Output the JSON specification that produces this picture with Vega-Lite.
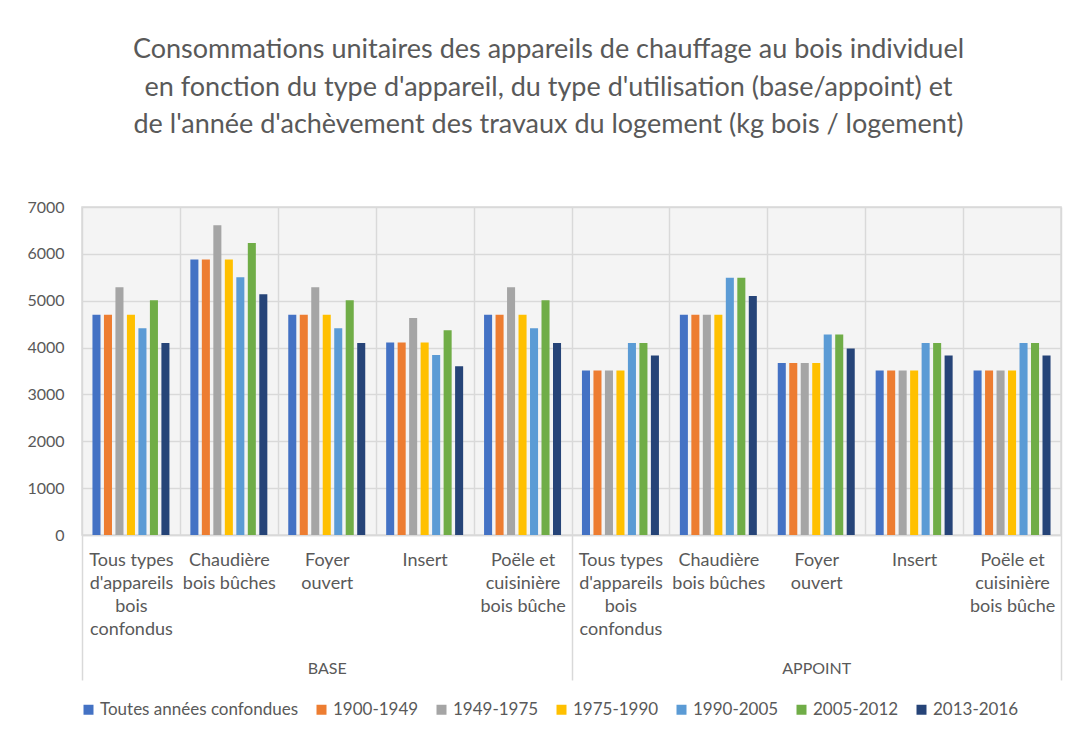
{
  "$schema": "https://vega.github.io/schema/vega-lite/v6.json",
  "width": 979,
  "height": 328,
  "autosize": {"type": "none"},
  "padding": {"left": 82, "top": 207, "right": 9, "bottom": 198},
  "background": "white",
  "title": {
    "text": ["Consommations unitaires des appareils de chauffage au bois individuel", "en fonction du type d'appareil, du type d'utilisation (base/appoint) et", "de l'année d'achèvement des travaux du logement (kg bois / logement)"],
    "font": "Lato",
    "fontSize": 27,
    "fontWeight": "normal",
    "color": "#595959",
    "lineHeight": 37.5,
    "anchor": "middle",
    "frame": "group",
    "dx": -23,
    "offset": 60
  },
  "config": {
    "view": {"stroke": "#d9d9d9", "strokeWidth": 1.5, "fill": "#f4f4f4"},
    "axis": {"labelFont": "Lato", "labelColor": "#595959", "labelFontSize": 16}
  },
  "data": {
    "values": [
      {"usage": "BASE", "categorie": "BASE|Tous types|d'appareils|bois|confondus", "periode": "Toutes années confondues", "kg": 4700},
      {"usage": "BASE", "categorie": "BASE|Tous types|d'appareils|bois|confondus", "periode": "1900-1949", "kg": 4700},
      {"usage": "BASE", "categorie": "BASE|Tous types|d'appareils|bois|confondus", "periode": "1949-1975", "kg": 5290},
      {"usage": "BASE", "categorie": "BASE|Tous types|d'appareils|bois|confondus", "periode": "1975-1990", "kg": 4700},
      {"usage": "BASE", "categorie": "BASE|Tous types|d'appareils|bois|confondus", "periode": "1990-2005", "kg": 4410},
      {"usage": "BASE", "categorie": "BASE|Tous types|d'appareils|bois|confondus", "periode": "2005-2012", "kg": 5010},
      {"usage": "BASE", "categorie": "BASE|Tous types|d'appareils|bois|confondus", "periode": "2013-2016", "kg": 4100},
      {"usage": "BASE", "categorie": "BASE|Chaudière|bois bûches", "periode": "Toutes années confondues", "kg": 5880},
      {"usage": "BASE", "categorie": "BASE|Chaudière|bois bûches", "periode": "1900-1949", "kg": 5880},
      {"usage": "BASE", "categorie": "BASE|Chaudière|bois bûches", "periode": "1949-1975", "kg": 6610},
      {"usage": "BASE", "categorie": "BASE|Chaudière|bois bûches", "periode": "1975-1990", "kg": 5880},
      {"usage": "BASE", "categorie": "BASE|Chaudière|bois bûches", "periode": "1990-2005", "kg": 5500},
      {"usage": "BASE", "categorie": "BASE|Chaudière|bois bûches", "periode": "2005-2012", "kg": 6230},
      {"usage": "BASE", "categorie": "BASE|Chaudière|bois bûches", "periode": "2013-2016", "kg": 5140},
      {"usage": "BASE", "categorie": "BASE|Foyer|ouvert", "periode": "Toutes années confondues", "kg": 4700},
      {"usage": "BASE", "categorie": "BASE|Foyer|ouvert", "periode": "1900-1949", "kg": 4700},
      {"usage": "BASE", "categorie": "BASE|Foyer|ouvert", "periode": "1949-1975", "kg": 5290},
      {"usage": "BASE", "categorie": "BASE|Foyer|ouvert", "periode": "1975-1990", "kg": 4700},
      {"usage": "BASE", "categorie": "BASE|Foyer|ouvert", "periode": "1990-2005", "kg": 4410},
      {"usage": "BASE", "categorie": "BASE|Foyer|ouvert", "periode": "2005-2012", "kg": 5010},
      {"usage": "BASE", "categorie": "BASE|Foyer|ouvert", "periode": "2013-2016", "kg": 4100},
      {"usage": "BASE", "categorie": "BASE|Insert", "periode": "Toutes années confondues", "kg": 4110},
      {"usage": "BASE", "categorie": "BASE|Insert", "periode": "1900-1949", "kg": 4110},
      {"usage": "BASE", "categorie": "BASE|Insert", "periode": "1949-1975", "kg": 4630},
      {"usage": "BASE", "categorie": "BASE|Insert", "periode": "1975-1990", "kg": 4110},
      {"usage": "BASE", "categorie": "BASE|Insert", "periode": "1990-2005", "kg": 3840},
      {"usage": "BASE", "categorie": "BASE|Insert", "periode": "2005-2012", "kg": 4370},
      {"usage": "BASE", "categorie": "BASE|Insert", "periode": "2013-2016", "kg": 3600},
      {"usage": "BASE", "categorie": "BASE|Poële et|cuisinière|bois bûche", "periode": "Toutes années confondues", "kg": 4700},
      {"usage": "BASE", "categorie": "BASE|Poële et|cuisinière|bois bûche", "periode": "1900-1949", "kg": 4700},
      {"usage": "BASE", "categorie": "BASE|Poële et|cuisinière|bois bûche", "periode": "1949-1975", "kg": 5290},
      {"usage": "BASE", "categorie": "BASE|Poële et|cuisinière|bois bûche", "periode": "1975-1990", "kg": 4700},
      {"usage": "BASE", "categorie": "BASE|Poële et|cuisinière|bois bûche", "periode": "1990-2005", "kg": 4410},
      {"usage": "BASE", "categorie": "BASE|Poële et|cuisinière|bois bûche", "periode": "2005-2012", "kg": 5010},
      {"usage": "BASE", "categorie": "BASE|Poële et|cuisinière|bois bûche", "periode": "2013-2016", "kg": 4100},
      {"usage": "APPOINT", "categorie": "APPOINT|Tous types|d'appareils|bois|confondus", "periode": "Toutes années confondues", "kg": 3510},
      {"usage": "APPOINT", "categorie": "APPOINT|Tous types|d'appareils|bois|confondus", "periode": "1900-1949", "kg": 3510},
      {"usage": "APPOINT", "categorie": "APPOINT|Tous types|d'appareils|bois|confondus", "periode": "1949-1975", "kg": 3510},
      {"usage": "APPOINT", "categorie": "APPOINT|Tous types|d'appareils|bois|confondus", "periode": "1975-1990", "kg": 3510},
      {"usage": "APPOINT", "categorie": "APPOINT|Tous types|d'appareils|bois|confondus", "periode": "1990-2005", "kg": 4100},
      {"usage": "APPOINT", "categorie": "APPOINT|Tous types|d'appareils|bois|confondus", "periode": "2005-2012", "kg": 4100},
      {"usage": "APPOINT", "categorie": "APPOINT|Tous types|d'appareils|bois|confondus", "periode": "2013-2016", "kg": 3830},
      {"usage": "APPOINT", "categorie": "APPOINT|Chaudière|bois bûches", "periode": "Toutes années confondues", "kg": 4700},
      {"usage": "APPOINT", "categorie": "APPOINT|Chaudière|bois bûches", "periode": "1900-1949", "kg": 4700},
      {"usage": "APPOINT", "categorie": "APPOINT|Chaudière|bois bûches", "periode": "1949-1975", "kg": 4700},
      {"usage": "APPOINT", "categorie": "APPOINT|Chaudière|bois bûches", "periode": "1975-1990", "kg": 4700},
      {"usage": "APPOINT", "categorie": "APPOINT|Chaudière|bois bûches", "periode": "1990-2005", "kg": 5490},
      {"usage": "APPOINT", "categorie": "APPOINT|Chaudière|bois bûches", "periode": "2005-2012", "kg": 5490},
      {"usage": "APPOINT", "categorie": "APPOINT|Chaudière|bois bûches", "periode": "2013-2016", "kg": 5100},
      {"usage": "APPOINT", "categorie": "APPOINT|Foyer|ouvert", "periode": "Toutes années confondues", "kg": 3670},
      {"usage": "APPOINT", "categorie": "APPOINT|Foyer|ouvert", "periode": "1900-1949", "kg": 3670},
      {"usage": "APPOINT", "categorie": "APPOINT|Foyer|ouvert", "periode": "1949-1975", "kg": 3670},
      {"usage": "APPOINT", "categorie": "APPOINT|Foyer|ouvert", "periode": "1975-1990", "kg": 3670},
      {"usage": "APPOINT", "categorie": "APPOINT|Foyer|ouvert", "periode": "1990-2005", "kg": 4280},
      {"usage": "APPOINT", "categorie": "APPOINT|Foyer|ouvert", "periode": "2005-2012", "kg": 4280},
      {"usage": "APPOINT", "categorie": "APPOINT|Foyer|ouvert", "periode": "2013-2016", "kg": 3980},
      {"usage": "APPOINT", "categorie": "APPOINT|Insert", "periode": "Toutes années confondues", "kg": 3510},
      {"usage": "APPOINT", "categorie": "APPOINT|Insert", "periode": "1900-1949", "kg": 3510},
      {"usage": "APPOINT", "categorie": "APPOINT|Insert", "periode": "1949-1975", "kg": 3510},
      {"usage": "APPOINT", "categorie": "APPOINT|Insert", "periode": "1975-1990", "kg": 3510},
      {"usage": "APPOINT", "categorie": "APPOINT|Insert", "periode": "1990-2005", "kg": 4100},
      {"usage": "APPOINT", "categorie": "APPOINT|Insert", "periode": "2005-2012", "kg": 4100},
      {"usage": "APPOINT", "categorie": "APPOINT|Insert", "periode": "2013-2016", "kg": 3830},
      {"usage": "APPOINT", "categorie": "APPOINT|Poële et|cuisinière|bois bûche", "periode": "Toutes années confondues", "kg": 3510},
      {"usage": "APPOINT", "categorie": "APPOINT|Poële et|cuisinière|bois bûche", "periode": "1900-1949", "kg": 3510},
      {"usage": "APPOINT", "categorie": "APPOINT|Poële et|cuisinière|bois bûche", "periode": "1949-1975", "kg": 3510},
      {"usage": "APPOINT", "categorie": "APPOINT|Poële et|cuisinière|bois bûche", "periode": "1975-1990", "kg": 3510},
      {"usage": "APPOINT", "categorie": "APPOINT|Poële et|cuisinière|bois bûche", "periode": "1990-2005", "kg": 4100},
      {"usage": "APPOINT", "categorie": "APPOINT|Poële et|cuisinière|bois bûche", "periode": "2005-2012", "kg": 4100},
      {"usage": "APPOINT", "categorie": "APPOINT|Poële et|cuisinière|bois bûche", "periode": "2013-2016", "kg": 3830}
    ]
  },
  "layer": [
    {
      "mark": {"type": "bar"},
      "encoding": {
        "x": {
          "field": "categorie",
          "type": "nominal",
          "sort": ["BASE|Tous types|d'appareils|bois|confondus", "BASE|Chaudière|bois bûches", "BASE|Foyer|ouvert", "BASE|Insert", "BASE|Poële et|cuisinière|bois bûche", "APPOINT|Tous types|d'appareils|bois|confondus", "APPOINT|Chaudière|bois bûches", "APPOINT|Foyer|ouvert", "APPOINT|Insert", "APPOINT|Poële et|cuisinière|bois bûche"],
          "scale": {"paddingInner": 0, "paddingOuter": 0},
          "axis": {
            "orient": "bottom",
            "title": null,
            "domain": true,
            "domainColor": "#d9d9d9",
            "domainWidth": 1.5,
            "grid": true,
            "gridColor": "#d9d9d9",
            "gridWidth": 1.5,
            "tickBand": "extent",
            "ticks": true,
            "tickSize": 145,
            "tickWidth": 1.5,
            "tickColor": "rgba(0,0,0,0)",
            "labelExpr": "slice(split(datum.value, '|'), 1)",
            "labelAngle": 0,
            "labelFontSize": 18,
            "labelPadding": -129,
            "labelBaseline": "top",
            "labelAlign": "center",
            "labelLineHeight": 23,
            "labelLimit": 200
          }
        },
        "xOffset": {
          "field": "periode",
          "type": "nominal",
          "sort": ["Toutes années confondues", "1900-1949", "1949-1975", "1975-1990", "1990-2005", "2005-2012", "2013-2016"],
          "scale": {"paddingInner": 0.3, "paddingOuter": 0.91}
        },
        "y": {
          "field": "kg",
          "type": "quantitative",
          "scale": {"domain": [0, 7000], "nice": false},
          "axis": {
            "title": null,
            "values": [0, 1000, 2000, 3000, 4000, 5000, 6000, 7000],
            "format": "d",
            "domain": false,
            "ticks": false,
            "grid": true,
            "gridColor": "#d9d9d9",
            "gridWidth": 1.5,
            "labelPadding": 18
          }
        },
        "color": {
          "field": "periode",
          "type": "nominal",
          "sort": ["Toutes années confondues", "1900-1949", "1949-1975", "1975-1990", "1990-2005", "2005-2012", "2013-2016"],
          "scale": {
            "domain": ["Toutes années confondues", "1900-1949", "1949-1975", "1975-1990", "1990-2005", "2005-2012", "2013-2016"],
            "range": ["#4472C4", "#ED7D31", "#A5A5A5", "#FFC000", "#5B9BD5", "#70AD47", "#264478"]
          },
          "legend": {
            "title": null,
            "orient": "none",
            "direction": "horizontal",
            "columns": 7,
            "legendX": -2,
            "legendY": 494,
            "padding": 0,
            "symbolType": "square",
            "symbolSize": 100,
            "symbolStrokeWidth": 0,
            "labelFont": "Lato",
            "labelFontSize": 17,
            "labelColor": "#595959",
            "labelOffset": 3,
            "columnPadding": 14,
            "labelLimit": 300
          }
        }
      }
    },
    {
      "mark": {"type": "point", "opacity": 0},
      "encoding": {
        "x": {
          "field": "usage",
          "type": "nominal",
          "sort": ["BASE", "APPOINT"],
          "scale": {"paddingInner": 0, "paddingOuter": 0},
          "axis": {
            "orient": "bottom",
            "title": null,
            "domain": false,
            "grid": false,
            "ticks": true,
            "tickBand": "extent",
            "tickSize": 145,
            "tickWidth": 1.5,
            "tickColor": "#d9d9d9",
            "labelPadding": -20,
            "labelBaseline": "top",
            "labelAngle": 0,
            "labelAlign": "center"
          }
        },
        "y": {"field": "kg", "type": "quantitative"}
      }
    }
  ],
  "resolve": {"scale": {"x": "independent"}, "axis": {"x": "independent"}}
}
